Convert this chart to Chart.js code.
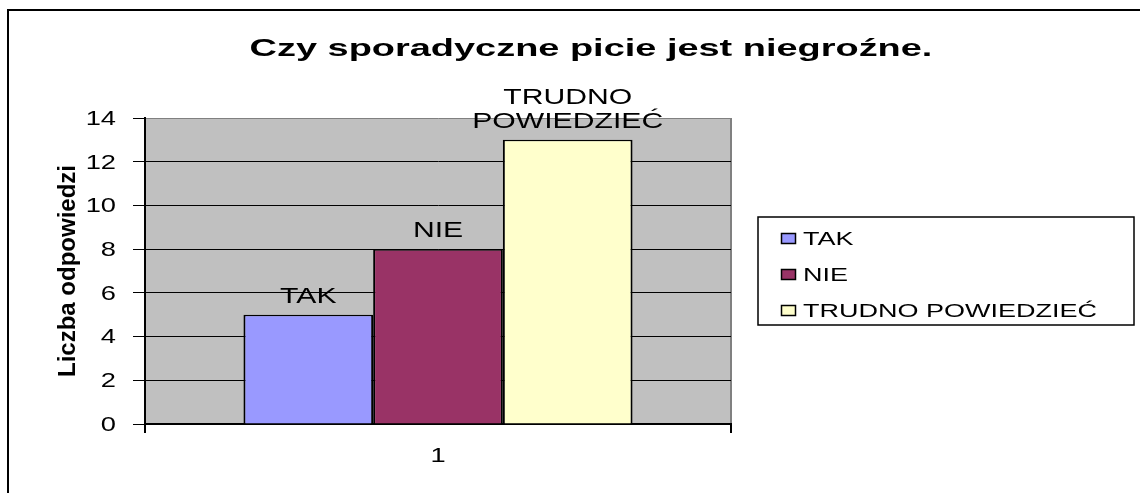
<!DOCTYPE html>
<html>
<head>
<meta charset="utf-8">
<script src="https://cdn.jsdelivr.net/npm/chart.js@4/dist/chart.umd.min.js"></script>
<style>
  html, body { margin: 0; padding: 0; background: #fff; }
  canvas { display: block; }
</style>
</head>
<body>
<canvas id="chart" width="1140" height="493"></canvas>
<script>
// chart data
const categories = ["1"];
const seriesNames = ["TAK", "NIE", "TRUDNO POWIEDZIEĆ"];
const seriesValues = [5, 8, 13];
const seriesColors = ["#9999FF", "#993366", "#FFFFCC"];
const yMin = 0;
const yMax = 14;
const yStep = 2;

const chartTitle = "Czy sporadyczne picie jest niegroźne.";
const yTitle = "Liczba odpowiedzi";

const FONT = '"Liberation Sans", Arial, sans-serif';

// old Excel export: horizontal text comes out stretched, so draw it scaled in x
function stretchText(ctx, text, x, y, sx, align, baseline) {
  ctx.save();
  ctx.translate(x, y);
  ctx.scale(sx, 1);
  ctx.textAlign = align;
  ctx.textBaseline = baseline || "alphabetic";
  ctx.fillText(text, 0, 0);
  ctx.restore();
}

// gray plot background + outer frame
const backgroundPlugin = {
  id: "plotBackground",
  beforeDraw: (chart) => {
    const ctx = chart.ctx;
    const { left, top, right, bottom } = chart.chartArea;
    ctx.save();
    ctx.fillStyle = "#fff";
    ctx.fillRect(0, 0, chart.width, chart.height);
    ctx.fillStyle = "#C0C0C0";
    ctx.fillRect(left, top, right - left, bottom - top);
    ctx.strokeStyle = "#000";
    ctx.lineWidth = 2;
    ctx.beginPath();
    ctx.moveTo(8, chart.height);
    ctx.lineTo(8, 10);
    ctx.lineTo(chart.width, 10);
    ctx.stroke();
    ctx.restore();
  },
};

// title, tick labels, bar labels and legend
const textPlugin = {
  id: "texts",
  afterDraw: (chart) => {
    const ctx = chart.ctx;
    const area = chart.chartArea;
    const yScale = chart.scales.y;
    const xScale = chart.scales.x;
    ctx.save();
    ctx.fillStyle = "#000";

    // title
    ctx.font = `bold 24px ${FONT}`;
    stretchText(ctx, chartTitle, 591, 56, 1.58, "center");

    // y tick labels
    ctx.font = `21px ${FONT}`;
    yScale.ticks.forEach((t, i) => {
      const py = yScale.getPixelForTick(i);
      stretchText(ctx, String(t.value), area.left - 29, py + 1, 1.3, "right", "middle");
    });

    // x tick labels
    xScale.ticks.forEach((t, i) => {
      stretchText(ctx, categories[i], xScale.getPixelForTick(i), area.bottom + 38, 1.3, "center");
    });

    // labels above bars
    ctx.font = `22px ${FONT}`;
    chart.data.datasets.forEach((ds, di) => {
      const meta = chart.getDatasetMeta(di);
      meta.data.forEach((bar) => {
        const lines = ds.label.split(" ");
        let by = bar.y - 12;
        for (let k = lines.length - 1; k >= 0; k--) {
          stretchText(ctx, lines[k], bar.x, by, 1.37, "center");
          by -= 24;
        }
      });
    });

    // legend
    const lx = 758, ly = 217, lw = 376, lh = 108;
    ctx.strokeStyle = "#000";
    ctx.lineWidth = 1.5;
    ctx.strokeRect(lx, ly, lw, lh);
    ctx.font = `18px ${FONT}`;
    seriesNames.forEach((name, i) => {
      const base = ly + 28 + i * 36;
      ctx.fillStyle = seriesColors[i];
      ctx.fillRect(781, base - 12, 15, 11);
      ctx.strokeStyle = "#000";
      ctx.lineWidth = 1.5;
      ctx.strokeRect(781.5, base - 11.5, 14, 10);
      ctx.fillStyle = "#000";
      stretchText(ctx, name, 803, base, 1.5, "left");
    });

    ctx.restore();
  },
};

new Chart(document.getElementById("chart"), {
  type: "bar",
  data: {
    labels: categories,
    datasets: seriesNames.map((name, i) => ({
      label: name,
      data: [seriesValues[i]],
      backgroundColor: seriesColors[i],
      borderColor: "#000",
      borderWidth: { top: 1.5, left: 2, right: 2, bottom: 0 },
      categoryPercentage: 0.664,
      barPercentage: 1,
    })),
  },
  plugins: [backgroundPlugin, textPlugin],
  options: {
    responsive: false,
    animation: false,
    devicePixelRatio: 1,
    layout: { padding: { left: 0, top: 118, right: 409, bottom: 0 } },
    plugins: {
      legend: { display: false },
      title: { display: false },
      tooltip: { enabled: false },
    },
    scales: {
      x: {
        offset: true,
        ticks: { display: false },
        grid: {
          offset: true,
          color: (c) => (c.index === 0 ? "#000" : "#808080"),
          lineWidth: 2,
          tickColor: "#000",
          tickLength: 9,
        },
        border: { color: "#000", width: 2 },
        afterFit: (s) => { s.height = 69; },
      },
      y: {
        min: yMin,
        max: yMax,
        ticks: { stepSize: yStep, display: false },
        grid: {
          color: (c) => (c.tick && c.tick.value === yMax ? "#808080" : "#000"),
          lineWidth: 1,
          tickColor: "#000",
          tickLength: 12,
        },
        border: { color: "#000", width: 2 },
        title: {
          display: true,
          text: yTitle,
          color: "#000",
          font: { family: FONT, size: 24, weight: "bold" },
          padding: { top: 54, bottom: 0 },
        },
        afterFit: (s) => { s.width = 145; },
      },
    },
  },
});
</script>
</body>
</html>
